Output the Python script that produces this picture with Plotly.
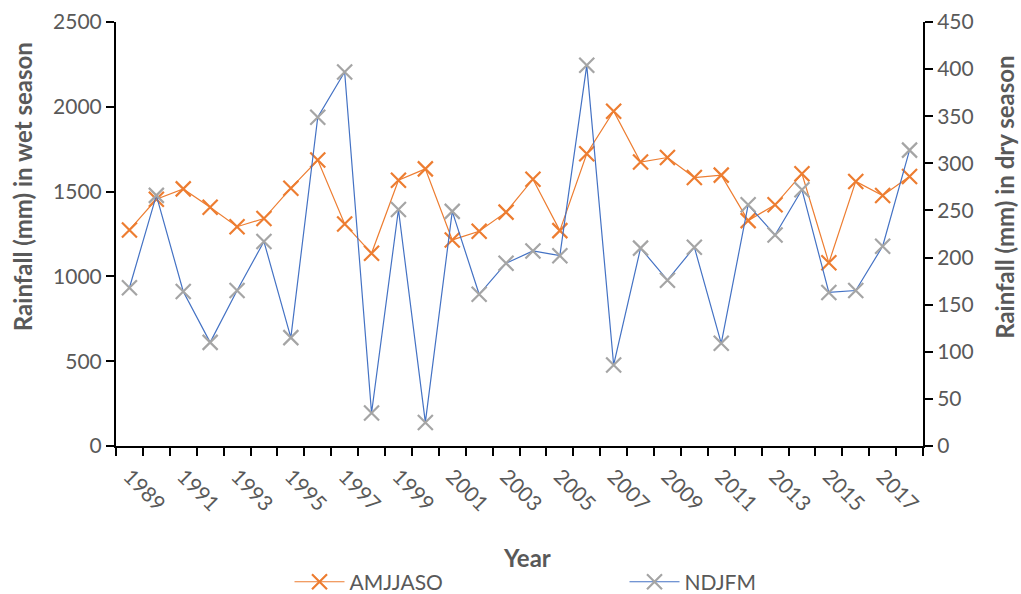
import plotly.graph_objects as go

years = list(range(1989, 2019))
amjjaso = [1274, 1455, 1516, 1408, 1293, 1341, 1520, 1686, 1309, 1136,
           1567, 1634, 1215, 1266, 1379, 1573, 1270, 1723, 1974, 1674,
           1701, 1583, 1597, 1329, 1422, 1605, 1080, 1560, 1477, 1589]
ndjfm = [168, 266, 164, 110, 165, 217, 115, 349, 397, 35,
         251, 25, 249, 161, 194, 207, 202, 404, 86, 210,
         176, 211, 109, 256, 224, 272, 163, 165, 212, 314]
tick_labels = [str(y) for y in range(1989, 2019, 2)]

FONT = "Lato"
GRAY = "#595959"

fig = go.Figure()
fig.add_trace(go.Scatter(
    x=years, y=amjjaso, name="AMJJASO", mode="lines+markers",
    line=dict(color="#ED7D31", width=1.2),
    marker=dict(symbol="x-thin", size=15, line=dict(color="#ED7D31", width=2.2)),
    yaxis="y"))
fig.add_trace(go.Scatter(
    x=years, y=ndjfm, name="NDJFM", mode="lines+markers",
    line=dict(color="#4472C4", width=1.2),
    marker=dict(symbol="x-thin", size=15, line=dict(color="#A5A5A5", width=2.2)),
    yaxis="y2"))

axis_common = dict(showline=True, linecolor="black", linewidth=2,
                   showgrid=False, zeroline=False, automargin=False,
                   tickfont=dict(family=FONT, size=21, color=GRAY))

fig.update_layout(
    width=1021, height=594,
    margin=dict(l=116, r=98, t=22, b=148),
    paper_bgcolor="white", plot_bgcolor="white",
    font=dict(family=FONT, color=GRAY),
    xaxis=dict(**axis_common, range=[1988.5, 2018.5],
               tickvals=[int(t) for t in tick_labels], ticktext=tick_labels,
               ticks="", tickangle=45, ticklabelstandoff=8,
               minor=dict(tickvals=[y - 0.5 for y in years] + [years[-1] + 0.5],
                          ticks="outside", ticklen=8, tickwidth=2, tickcolor="black")),
    yaxis=dict(**axis_common, range=[0, 2500], dtick=500,
               ticks="outside", ticklen=8, tickwidth=2, tickcolor="black"),
    yaxis2=dict(**axis_common, range=[0, 450], dtick=50, overlaying="y", side="right",
                ticks="outside", ticklen=8, tickwidth=2, tickcolor="black"),
    legend=dict(orientation="h", x=0.215, xanchor="left",
                yref="container", y=0.02, yanchor="middle",
                font=dict(family=FONT, size=21, color=GRAY),
                itemwidth=50, entrywidth=270, bgcolor="rgba(0,0,0,0)"),
    annotations=[
        dict(text="<b>Rainfall (mm) in wet season</b>", xref="paper", yref="paper",
             x=-0.115, y=0.611, xanchor="center", yanchor="middle",
             textangle=-90, showarrow=False,
             font=dict(family=FONT, size=24, color=GRAY)),
        dict(text="<b>Rainfall (mm) in dry season</b>", xref="paper", yref="paper",
             x=1.1, y=0.587, xanchor="center", yanchor="middle",
             textangle=-90, showarrow=False,
             font=dict(family=FONT, size=24, color=GRAY)),
        dict(text="<b>Year</b>", xref="paper", yref="paper",
             x=0.509, y=-0.262, xanchor="center", yanchor="middle", showarrow=False,
             font=dict(family=FONT, size=24, color=GRAY)),
    ],
)

fig.write_html("out.html")
